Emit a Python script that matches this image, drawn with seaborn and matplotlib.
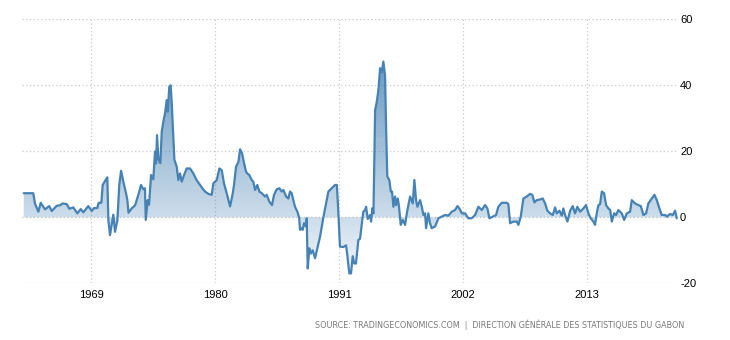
import numpy as np
import pandas as pd
import matplotlib
matplotlib.use("Agg")
import matplotlib.pyplot as plt
import seaborn as sns

# ---- data ----
years = [
    1963.00, 1963.85, 1964.00, 1964.30, 1964.51, 1964.89, 1965.27, 1965.49, 1965.93, 1966.20,
    1966.46, 1966.82, 1967.05, 1967.40, 1967.76, 1968.06, 1968.29, 1968.73, 1969.04, 1969.24,
    1969.53, 1969.65, 1969.89, 1970.01, 1970.30, 1970.42, 1970.51, 1970.66, 1970.95, 1971.10,
    1971.31, 1971.48, 1971.64, 1971.84, 1972.08, 1972.20, 1972.30, 1972.58, 1972.88, 1973.17,
    1973.41, 1973.61, 1973.76, 1973.83, 1974.00, 1974.12, 1974.30, 1974.50, 1974.65, 1974.74,
    1974.83, 1974.95, 1975.12, 1975.25, 1975.39, 1975.54, 1975.69, 1975.78, 1975.92, 1976.04,
    1976.13, 1976.28, 1976.37, 1976.58, 1976.72, 1976.87, 1977.02, 1977.25, 1977.46, 1977.76,
    1978.05, 1978.35, 1978.65, 1978.85, 1979.09, 1979.38, 1979.68, 1979.83, 1980.13, 1980.36,
    1980.57, 1980.77, 1981.01, 1981.31, 1981.55, 1981.66, 1981.84, 1982.05, 1982.20, 1982.37,
    1982.55, 1982.73, 1982.84, 1983.02, 1983.23, 1983.37, 1983.53, 1983.73, 1983.90, 1984.12,
    1984.41, 1984.56, 1984.80, 1985.03, 1985.21, 1985.45, 1985.68, 1985.89, 1986.04, 1986.28,
    1986.48, 1986.63, 1986.78, 1986.92, 1987.07, 1987.28, 1987.43, 1987.52, 1987.67, 1987.76,
    1987.87, 1988.05, 1988.11, 1988.20, 1988.34, 1988.47, 1988.64, 1988.85, 1989.29, 1989.59,
    1989.89, 1990.03, 1990.33, 1990.62, 1990.78, 1990.86, 1991.06, 1991.36, 1991.60, 1991.71,
    1991.89, 1992.04, 1992.19, 1992.33, 1992.48, 1992.69, 1992.84, 1992.99, 1993.13, 1993.29,
    1993.38, 1993.52, 1993.73, 1993.82, 1993.94, 1994.03, 1994.18, 1994.32, 1994.47, 1994.62,
    1994.77, 1994.91, 1995.06, 1995.15, 1995.26, 1995.44, 1995.57, 1995.68, 1995.80, 1995.95,
    1996.04, 1996.19, 1996.30, 1996.45, 1996.63, 1996.84, 1996.99, 1997.28, 1997.52, 1997.66,
    1997.81, 1997.93, 1998.17, 1998.32, 1998.46, 1998.61, 1998.70, 1998.90, 1999.05, 1999.20,
    1999.50, 1999.79, 2000.09, 2000.38, 2000.68, 2000.98, 2001.27, 2001.48, 2001.65, 2001.87,
    2002.16, 2002.45, 2002.75, 2003.05, 2003.34, 2003.64, 2003.93, 2004.14, 2004.32, 2004.62,
    2004.91, 2005.11, 2005.41, 2005.86, 2006.00, 2006.15, 2006.45, 2006.75, 2006.89, 2007.10,
    2007.33, 2007.63, 2007.93, 2008.13, 2008.31, 2008.52, 2008.81, 2009.05, 2009.26, 2009.46,
    2009.70, 2009.94, 2010.15, 2010.29, 2010.53, 2010.74, 2010.88, 2011.03, 2011.24, 2011.48,
    2011.71, 2011.92, 2012.12, 2012.36, 2012.66, 2012.89, 2013.10, 2013.31, 2013.54, 2013.69,
    2013.84, 2013.99, 2014.14, 2014.29, 2014.49, 2014.67, 2014.87, 2015.03, 2015.18, 2015.38,
    2015.56, 2015.76, 2016.06, 2016.27, 2016.51, 2016.80, 2016.95, 2017.24, 2017.54, 2017.75,
    2017.98, 2018.22, 2018.42, 2018.72, 2018.96, 2019.17, 2019.40, 2019.61, 2019.91, 2020.06,
    2020.35, 2020.59, 2020.79, 2020.94,
]
inflation = [
    7.3, 7.3, 4.2, 1.7, 4.4, 2.4, 3.4, 1.9, 3.5, 3.6,
    4.2, 4.0, 2.6, 3.0, 1.2, 2.5, 1.5, 3.4, 1.9, 2.8,
    2.8, 4.4, 4.4, 9.8, 11.5, 12.1, -0.8, -5.4, 0.8, -4.4,
    -1.0, 9.8, 14.1, 10.8, 7.3, 5.2, 1.4, 2.7, 3.6, 6.8,
    9.8, 8.5, 8.8, -0.8, 5.2, 3.8, 12.8, 11.5, 19.9, 16.3,
    24.9, 17.5, 16.4, 26.0, 29.0, 31.5, 35.5, 32.0, 39.6, 40.0,
    35.0, 24.4, 17.4, 15.3, 11.3, 13.3, 10.8, 13.0, 14.8, 14.8,
    13.3, 11.2, 9.8, 8.8, 7.8, 7.1, 6.8, 10.3, 11.3, 14.8,
    14.3, 10.3, 7.3, 3.3, 7.3, 9.8, 15.3, 16.8, 20.6, 19.5,
    16.4, 13.8, 13.3, 12.8, 11.3, 10.8, 8.3, 9.8, 7.8, 7.3,
    6.3, 6.8, 4.7, 3.7, 6.8, 8.5, 8.8, 7.8, 8.3, 6.3,
    5.7, 7.8, 7.3, 5.2, 3.2, 1.7, 0.0, -3.8, -3.3, -3.8,
    -1.8, -2.8, -0.3, -15.5, -9.4, -11.0, -10.0, -12.4, -5.9, 0.0,
    5.2, 7.8, 8.8, 9.8, 9.8, 5.2, -8.9, -9.0, -8.5, -11.4,
    -17.0, -17.0, -11.8, -14.0, -14.0, -6.9, -6.5, -2.3, 1.7, 2.2,
    3.2, -0.5, 0.7, -1.3, 2.8, 1.2, 32.5, 34.9, 38.6, 45.2,
    44.0, 47.2, 42.9, 27.5, 12.3, 11.3, 7.8, 7.8, 3.2, 6.3,
    3.7, 5.7, 3.2, -2.3, -0.8, -2.3, 1.2, 6.3, 4.2, 11.3,
    5.2, 3.2, 5.2, 3.2, 0.7, 1.2, -3.3, 1.2, -1.8, -3.3,
    -2.8, -0.3, 0.2, 0.7, 0.5, 1.7, 2.2, 3.4, 2.7, 1.2,
    1.2, -0.3, -0.3, 0.7, 3.2, 2.2, 3.7, 2.7, -0.3, 0.2,
    0.7, 3.2, 4.4, 4.4, 4.0, -1.8, -1.3, -1.3, -2.3, 0.2,
    5.7, 6.3, 7.1, 6.8, 4.5, 5.2, 5.4, 5.7, 4.2, 2.0,
    1.2, 0.7, 3.0, 1.2, 2.0, 0.5, 2.7, 0.7, -1.3, 2.0,
    3.4, 1.2, 3.2, 1.7, 2.7, 3.7, 1.2, -0.3, -1.3, -2.3,
    1.2, 3.7, 4.0, 7.8, 7.3, 3.7, 2.7, 2.2, -1.3, 1.2,
    0.7, 2.2, 1.2, -0.8, 1.2, 1.7, 5.2, 4.2, 3.7, 3.4,
    0.7, 1.2, 4.2, 5.7, 6.8, 5.2, 2.7, 0.7, 0.7, 0.2,
    1.0, 0.7, 2.0, -0.3,
]
x_ticks = [1969, 1980, 1991, 2002, 2013]
x_tick_labels = ["1969", "1980", "1991", "2002", "2013"]
y_ticks = [-20, 0, 20, 40, 60]
y_tick_labels = ["-20", "0", "20", "40", "60"]
source_text = "SOURCE: TRADINGECONOMICS.COM  |  DIRECTION GÉNÉRALE DES STATISTIQUES DU GABON"

df = pd.DataFrame({"year": years, "value": inflation})

sns.set_theme(style="white")
plt.rcParams["font.family"] = ["Liberation Sans", "DejaVu Sans"]

W, H = 730, 340
fig = plt.figure(figsize=(W / 100, H / 100), dpi=100)
ax_left, ax_right = 22 / W, 678 / W
ax_top, ax_bot = 1 - 19.3 / H, 1 - 283.3 / H
ax = fig.add_axes([ax_left, ax_bot, ax_right - ax_left, ax_top - ax_bot])

XMIN, XMAX = 1962.85, 2021.05
YMIN, YMAX = -20, 60

line_color = "#4682b4"

# gradient fill between line and zero
poly = ax.fill_between(df["year"], df["value"], 0, color="none", linewidth=0)
n = 256
alpha = np.linspace(0.95, 0.05, n)[:, None]  # top -> bottom
rgba = np.zeros((n, 1, 4))
rgba[..., 0] = 70 / 255
rgba[..., 1] = 130 / 255
rgba[..., 2] = 180 / 255
rgba[..., 3] = alpha
img = ax.imshow(rgba, extent=[XMIN, XMAX, YMIN, YMAX], aspect="auto",
                origin="upper", zorder=1, interpolation="bilinear")
path = poly.get_paths()[0]
img.set_clip_path(path, transform=ax.transData)

sns.lineplot(data=df, x="year", y="value", ax=ax, color=line_color,
             linewidth=1.6, sort=False, estimator=None, zorder=3)

ax.set_xlim(XMIN, XMAX)
ax.set_ylim(YMIN, YMAX)
ax.set_xlabel("")
ax.set_ylabel("")

ax.set_xticks(x_ticks)
ax.set_xticklabels(x_tick_labels)
ax.set_yticks(y_ticks)
ax.set_yticklabels(y_tick_labels)
ax.yaxis.tick_right()
ax.tick_params(axis="both", length=0, labelsize=8, colors="#000000")
ax.tick_params(axis="x", pad=5)
ax.tick_params(axis="y", pad=1.5)

ax.grid(True, color="#c8c8c8", linestyle=(0, (1, 2)), linewidth=0.9)
ax.set_axisbelow(True)
for s in ax.spines.values():
    s.set_visible(False)

fig.text(684 / W, 1 - 325 / H, source_text, ha="right", va="center",
         fontsize=5.8, color="#7a7a7a", family=["DejaVu Sans"])

fig.savefig("out.png", dpi=100)
